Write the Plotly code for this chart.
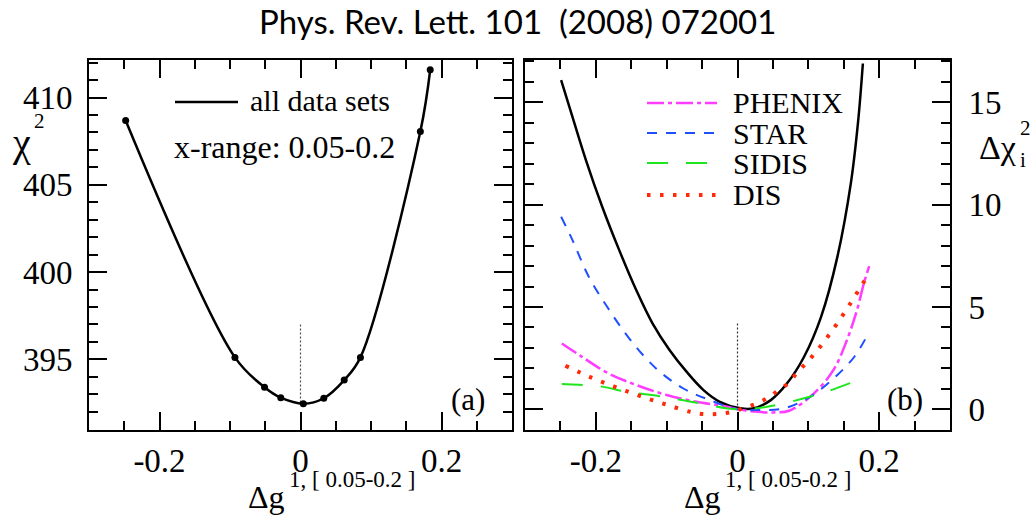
import plotly.graph_objects as go

W, H = 1034, 521

# ---------------- data ----------------
# panel (a): total chi^2 scan
dg_a = [-0.248, -0.093, -0.051, -0.028, 0.004, 0.033, 0.062, 0.085, 0.170, 0.184]
chi2_a = [408.68, 395.11, 393.40, 392.80, 392.46, 392.77, 393.81, 395.11, 408.05, 411.59]

# panel (b): total Delta chi^2 (black curve)
dg_all = [-0.249, -0.233, -0.214, -0.191, -0.167, -0.143, -0.120, -0.096, -0.072, -0.048,
          -0.025, 0.004, 0.023, 0.047, 0.070, 0.094, 0.118, 0.141, 0.160, 0.170, 0.177]
dchi2_all = [16.09, 14.29, 12.18, 9.90, 7.78, 5.83, 4.20, 2.90, 1.84, 0.94,
             0.37, 0.05, 0.05, 0.45, 1.27, 2.57, 4.52, 7.45, 11.04, 13.97, 16.9]

dg_phenix = [-0.248, -0.221, -0.184, -0.143, -0.100, -0.058, -0.015, 0.0, 0.028, 0.051,
             0.073, 0.108, 0.136, 0.154, 0.168, 0.179, 0.186]
dchi2_phenix = [3.22, 2.60, 1.79, 1.19, 0.70, 0.37, 0.13, 0.0, -0.12, -0.15,
                -0.07, 0.78, 1.95, 3.34, 4.77, 6.23, 7.0]

dg_star = [-0.249, -0.233, -0.210, -0.184, -0.153, -0.115, -0.077, -0.039, 0.0, 0.032,
           0.066, 0.103, 0.141, 0.165, 0.181]
dchi2_star = [9.41, 8.27, 6.48, 5.01, 3.47, 2.00, 1.03, 0.45, 0.0, -0.03,
              0.05, 0.62, 1.68, 2.57, 3.47]

dg_sidis = [-0.248, -0.224, -0.191, -0.157, -0.105, -0.053, 0.0, 0.042, 0.094, 0.132, 0.168]
dchi2_sidis = [1.24, 1.20, 1.11, 0.86, 0.62, 0.29, 0.0, 0.13, 0.54, 0.94, 1.40]

dg_dis = [-0.243, -0.209, -0.174, -0.139, -0.103, -0.067, -0.048, -0.029, -0.011, 0.008,
          0.025, 0.042, 0.057, 0.073, 0.085, 0.098, 0.110, 0.122, 0.133, 0.144,
          0.154, 0.164, 0.174, 0.184]
dchi2_dis = [2.13, 1.59, 1.11, 0.67, 0.26, -0.12, -0.23, -0.23, -0.15, 0.05,
             0.26, 0.54, 0.91, 1.32, 1.84, 2.29, 2.78, 3.30, 3.82, 4.36,
             4.89, 5.42, 5.99, 6.51]

# vertical reference (minimum position)
vline_x = [0.0, 0.0]
vline_a_y = [397.0, 392.46]
vline_b_y = [4.2, 0.0]

xtick_vals = [-0.2, 0.0, 0.2]
xtick_text = ["-0.2", "0", "0.2"]
ytick_a_vals = [395, 400, 405, 410]
ytick_a_text = ["395", "400", "405", "410"]
ytick_b_vals = [0, 5, 10, 15]
ytick_b_text = ["0", "5", "10", "15"]

series_b = [
    ("PHENIX", dg_phenix, dchi2_phenix, "#ff3cff", "17px,4px,4px,4px", 2.5),
    ("STAR", dg_star, dchi2_star, "#1f4fff", "10px,9px", 2),
    ("SIDIS", dg_sidis, dchi2_sidis, "#1ee61e", "21px,18px", 2),
    ("DIS", dg_dis, dchi2_dis, "#ff2a0a", "3.5px,9.5px", 4),
]

# ---------------- figure ----------------
def px(x):
    return x / W

def py(y):
    return 1 - y / H

SERIF = "Liberation Serif"
fig = go.Figure()

# panel (a)
fig.add_trace(go.Scatter(x=vline_x, y=vline_a_y, mode="lines",
                         line=dict(color="#555555", width=1.2, dash="2px,2px"),
                         xaxis="x", yaxis="y"))
fig.add_trace(go.Scatter(x=dg_a, y=chi2_a, mode="lines+markers", line_shape="spline",
                         line=dict(color="black", width=2.5),
                         marker=dict(color="black", size=7),
                         xaxis="x", yaxis="y"))

# panel (b)
fig.add_trace(go.Scatter(x=vline_x, y=vline_b_y, mode="lines",
                         line=dict(color="#333333", width=1.2, dash="2px,2px"),
                         xaxis="x2", yaxis="y2"))
fig.add_trace(go.Scatter(x=dg_all, y=dchi2_all, mode="lines", line_shape="spline",
                         line=dict(color="black", width=2.5),
                         xaxis="x2", yaxis="y2"))
for name, xs, ys, col, dash, lw in series_b:
    fig.add_trace(go.Scatter(x=xs, y=ys, mode="lines", line_shape="spline", name=name,
                             line=dict(color=col, width=lw, dash=dash),
                             xaxis="x2", yaxis="y2"))

common = dict(showline=True, linecolor="black", linewidth=2, mirror="allticks",
              ticks="inside", ticklen=18, tickwidth=2, tickcolor="black",
              showgrid=False, zeroline=False, tickmode="array",
              tickfont=dict(family=SERIF, size=33, color="black"))
minor_x = dict(ticks="inside", ticklen=9, tickwidth=2, tickcolor="black", dtick=0.05, tick0=0)
minor_y = dict(ticks="inside", ticklen=9, tickwidth=2, tickcolor="black", dtick=1, tick0=0)

fig.update_layout(
    width=W, height=H, margin=dict(l=0, r=0, t=0, b=0),
    paper_bgcolor="white", plot_bgcolor="white", showlegend=False,
    hovermode=False,
    xaxis=dict(domain=[px(89), px(512)], range=[-0.3, 0.3], anchor="y",
               tickvals=xtick_vals, ticktext=xtick_text, ticklabelstandoff=0,
               minor=minor_x, **common),
    yaxis=dict(domain=[py(430), py(60)], range=[390.95, 412.15], anchor="x",
               tickvals=ytick_a_vals, ticktext=ytick_a_text, ticklabelstandoff=8,
               minor=minor_y, **common),
    xaxis2=dict(domain=[px(525), px(950)], range=[-0.3, 0.3], anchor="y2",
                tickvals=xtick_vals, ticktext=xtick_text, ticklabelstandoff=0,
                minor=minor_x, **common),
    yaxis2=dict(domain=[py(430), py(60)], range=[-1.01, 17.07], anchor="x2", side="right",
                tickvals=ytick_b_vals, ticktext=ytick_b_text, ticklabelstandoff=10,
                minor=minor_y, **common),
)

ann = []
def text(x, y, s, size, family=SERIF, xanchor="center", yanchor="middle"):
    ann.append(dict(x=px(x), y=py(y), xref="paper", yref="paper", text=s, showarrow=False,
                    xanchor=xanchor, yanchor=yanchor,
                    font=dict(family=family, size=size, color="black")))

# title
text(517, 21, "Phys. Rev. Lett. 101&nbsp; (2008) 072001", 33, family="Lato")
# panel (a) texts
text(248, 100, "all data sets", 30, xanchor="left")
text(172, 147, "x-range: 0.05-0.2", 32, xanchor="left")
text(468, 399, "(a)", 31)
text(905, 399, "(b)", 31)
# y titles
text(10, 142, "χ", 40, xanchor="left")
text(39, 121, "2", 21)
text(977, 147, "Δχ", 34, xanchor="left")
text(1025, 128, "2", 21)
text(1023, 160, "i", 21)
# x titles
for off in (0, 436):
    text(246 + off, 497, "Δg", 32, xanchor="left")
    text(287 + off, 479, "1, [ 0.05-0.2 ]", 23, xanchor="left")

# legend (b)
leg_y = [103, 133, 163, 195]
for (name, xs, ys, col, dash, lw), yy in zip(series_b, leg_y):
    fig.add_shape(type="line", xref="paper", yref="paper", x0=px(647), x1=px(717),
                  y0=py(yy), y1=py(yy), line=dict(color=col, width=lw, dash=dash))
    text(731, yy, name, 30, xanchor="left")
# legend (a)
fig.add_shape(type="line", xref="paper", yref="paper", x0=px(175), x1=px(238),
              y0=py(102), y1=py(102), line=dict(color="black", width=2.5))

fig.update_layout(annotations=ann)
fig.write_html("out.html", config={"displayModeBar": False},
               post_script="document.body.style.margin='0';")
